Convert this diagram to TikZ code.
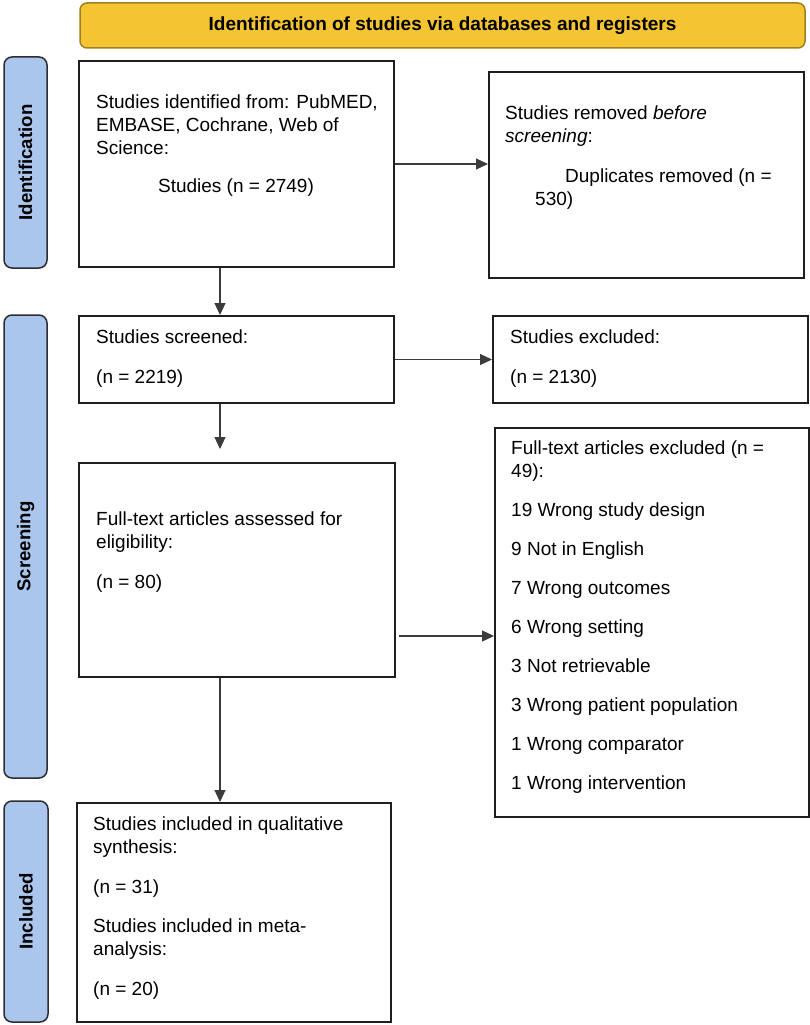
\documentclass[tikz,border=0pt]{standalone}
\usepackage{fontspec}
\setmainfont{Liberation Sans}
\usetikzlibrary{positioning}
\usetikzlibrary{arrows.meta}
\definecolor{bannerfill}{RGB}{244,196,50}
\definecolor{bannerline}{RGB}{160,128,30}
\definecolor{tabfill}{RGB}{170,198,236}
\definecolor{tabline}{RGB}{45,45,50}
\definecolor{boxline}{RGB}{30,30,30}
\definecolor{arrline}{RGB}{60,60,60}
\tikzset{%
  banner/.style = {rectangle,rounded corners=7pt,draw=bannerline,line width=1.5pt,
        fill=bannerfill,font=\fontsize{19}{22}\selectfont\bfseries},
  tab/.style = {rectangle,rounded corners=8pt,draw=tabline,line width=1.5pt,
        fill=tabfill,rotate=90,font=\fontsize{18.6}{21}\selectfont\bfseries},
  box/.style = {rectangle,draw=boxline,line width=2pt,inner sep=0pt},
  txt/.style = {anchor=north west,inner sep=0pt,align=left,
        font=\fontsize{19}{23}\selectfont},
  arr/.style = {-{Triangle[length=12pt,width=11pt]},draw=arrline,line width=1.2pt}
}
\begin{document}
\begin{tikzpicture}[x=1pt,y=-1pt]
    \useasboundingbox (0,0) rectangle (810,1025);
    \node[banner,minimum width=725,minimum height=45] (head) at (442.5,25.5)
        {Identification of studies via databases and registers};
    \node[tab,minimum width=211,minimum height=43] (tabid) at (25.5,162.5) {Identification};
    \node[tab,minimum width=463,minimum height=43] (tabsc) at (25.5,546.5) {Screening};
    \node[tab,minimum width=221,minimum height=44] (tabin) at (26,911.5) {Included};

    \node[box,minimum width=315,minimum height=206] (ident) at (236.5,164) {};
    \node[box,minimum width=315,minimum height=206] (dupl) at (646.5,175) {};
    \node[box,minimum width=315,minimum height=87] (screen) at (236.5,359.5) {};
    \node[box,minimum width=315,minimum height=87] (excl) at (650.5,359.5) {};
    \node[box,minimum width=316,minimum height=214] (full) at (237,570) {};
    \node[box,minimum width=314,minimum height=389] (fullexcl) at (652,622.5) {};
    \node[box,minimum width=314,minimum height=219] (incl) at (234,912.5) {};

    \node[txt] (identtxt) at (96,95) {Studies identified from: PubMED,\\
        EMBASE, Cochrane, Web of\\ Science:};
    \node[txt,anchor=center] (identn) at (236,188) {Studies (n = 2749)};
    \node[txt] (dupltxt) at (505,106) {Studies removed \textit{before}\\
        \textit{screening}:\\[17pt]
        \hspace*{60pt}Duplicates removed (n =\\ \hspace*{30pt}530)};
    \node[txt] (screentxt) at (96,330) {Studies screened:\\[17pt] (n = 2219)};
    \node[txt] (excltxt) at (510,330) {Studies excluded:\\[17pt] (n = 2130)};
    \node[txt] (fulltxt) at (96,512) {Full-text articles assessed for\\
        eligibility:\\[17pt] (n = 80)};
    \node[txt] (fullexcltxt) at (511,441) {Full-text articles excluded (n =\\
        49):\\[16pt]
        19 Wrong study design\\[16pt]
        9 Not in English\\[16pt]
        7 Wrong outcomes\\[16pt]
        6 Wrong setting\\[16pt]
        3 Not retrievable\\[16pt]
        3 Wrong patient population\\[16pt]
        1 Wrong comparator\\[16pt]
        1 Wrong intervention};
    \node[txt] (incltxt) at (93,817) {Studies included in qualitative\\
        synthesis:\\[17pt] (n = 31)\\[16pt]
        Studies included in meta-\\ analysis:\\[17pt] (n = 20)};

    \coordinate (fullout) at (399,636);
    \draw[arr] (ident) -- (ident -| dupl.west);
    \draw[arr] ([xshift=-16.5pt]ident.south) -- ([xshift=-16.5pt]ident.south |- screen.north);
    \draw[arr] (screen) -- (excl);
    \draw[arr,shorten >=13pt] ([xshift=-16.5pt]screen.south) -- ([xshift=-16.5pt]screen.south |- full.north);
    \draw[arr] (fullout) -- (fullout -| fullexcl.west);
    \draw[arr] ([xshift=-17pt]full.south) -- ([xshift=-17pt]full.south |- incl.north);
\end{tikzpicture}
\end{document}
